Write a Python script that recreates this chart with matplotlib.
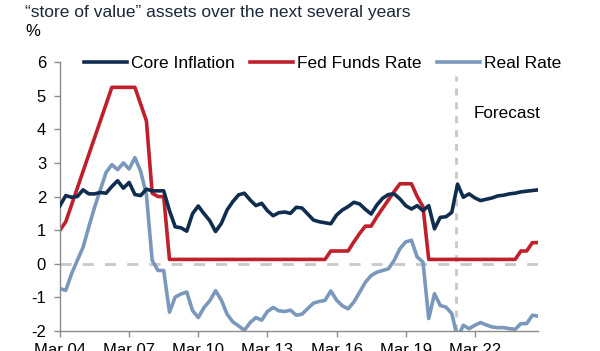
import matplotlib
matplotlib.use("Agg")
import matplotlib.pyplot as plt
import numpy as np

plt.rcParams['font.family'] = ['Liberation Sans', 'DejaVu Sans']
plt.rcParams['axes.unicode_minus'] = False

# quarterly, Mar 04 .. Dec 24
tick_labels = ["Mar 04", "Mar 07", "Mar 10", "Mar 13", "Mar 16", "Mar 19", "Mar 22"]

core_inflation = [
    1.73, 2.03, 1.98, 2.00, 2.20, 2.08, 2.08, 2.12, 2.10, 2.30,
    2.47, 2.25, 2.42, 2.06, 2.03, 2.22, 2.17, 2.17, 2.17, 1.58,
    1.10, 1.07, 0.97, 1.49, 1.72, 1.49, 1.28, 0.96, 1.20, 1.60,
    1.85, 2.05, 2.10, 1.90, 1.73, 1.80, 1.58, 1.43, 1.52, 1.54,
    1.50, 1.68, 1.66, 1.48, 1.30, 1.25, 1.22, 1.19, 1.45, 1.60,
    1.70, 1.83, 1.78, 1.62, 1.48, 1.75, 1.95, 2.06, 2.08, 1.93,
    1.73, 1.63, 1.73, 1.58, 1.73, 1.04, 1.38, 1.40, 1.53, 2.37,
    1.98, 2.08, 1.96, 1.88, 1.92, 1.96, 2.02, 2.04, 2.08, 2.10,
    2.14, 2.16, 2.18, 2.20,
]

fed_funds = [
    1.00, 1.25, 1.75, 2.25, 2.75, 3.25, 3.75, 4.25, 4.75, 5.25,
    5.25, 5.25, 5.25, 5.25, 4.75, 4.25, 2.10, 2.00, 2.00, 0.13,
    0.13, 0.13, 0.13, 0.13, 0.13, 0.13, 0.13, 0.13, 0.13, 0.13,
    0.13, 0.13, 0.13, 0.13, 0.13, 0.13, 0.13, 0.13, 0.13, 0.13,
    0.13, 0.13, 0.13, 0.13, 0.13, 0.13, 0.13, 0.38, 0.38, 0.38,
    0.38, 0.65, 0.90, 1.12, 1.12, 1.40, 1.65, 1.90, 2.15, 2.38,
    2.38, 2.38, 2.00, 1.70, 0.13, 0.13, 0.13, 0.13, 0.13, 0.13,
    0.13, 0.13, 0.13, 0.13, 0.13, 0.13, 0.13, 0.13, 0.13, 0.13,
    0.38, 0.38, 0.63, 0.63,
]

real_rate = [
    -0.74, -0.79, -0.30, 0.10, 0.49, 1.10, 1.68, 2.20, 2.72, 2.95,
    2.80, 3.00, 2.82, 3.16, 2.75, 2.05, 0.10, -0.20, -0.20, -1.44,
    -0.99, -0.90, -0.84, -1.39, -1.60, -1.30, -1.10, -0.80, -1.08, -1.50,
    -1.73, -1.85, -1.98, -1.75, -1.60, -1.68, -1.42, -1.30, -1.40, -1.42,
    -1.38, -1.53, -1.50, -1.33, -1.17, -1.12, -1.09, -0.81, -1.08, -1.25,
    -1.34, -1.14, -0.85, -0.55, -0.35, -0.25, -0.20, -0.15, 0.10, 0.45,
    0.65, 0.70, 0.20, 0.05, -1.63, -0.89, -1.24, -1.29, -1.48, -2.20,
    -1.83, -1.93, -1.83, -1.75, -1.82, -1.88, -1.90, -1.90, -1.93, -1.95,
    -1.78, -1.78, -1.53, -1.56,
]

forecast_start = 68.7

x = np.arange(len(core_inflation))

fig = plt.figure(figsize=(6, 3.51), dpi=100)
ax = fig.add_axes([0.1, 0.057, 0.797, 0.766])

ax.axhline(0, color="#c8c8c8", lw=2, dashes=(4, 4), zorder=1)
ax.axvline(forecast_start, ymax=0.95, color="#c8c8c8", lw=2, dashes=(2.5, 2.5), zorder=1)

ax.plot(x, core_inflation, color="#0f2d4f", lw=2.6, label="Core Inflation", zorder=3)
ax.plot(x, fed_funds, color="#c01f2c", lw=2.6, label="Fed Funds Rate", zorder=2)
ax.plot(x, real_rate, color="#7a98bc", lw=2.6, label="Real Rate", zorder=2)

ax.set_xlim(0, 83)
ax.set_ylim(-2, 6)
ax.set_yticks(range(-2, 7))
ax.set_xticks(np.arange(0, 84, 12))
ax.set_xticklabels(tick_labels)

for s in ["top", "right"]:
    ax.spines[s].set_visible(False)
for s in ["left", "bottom"]:
    ax.spines[s].set_color("#8c8c8c")
    ax.spines[s].set_linewidth(1)
ax.tick_params(axis="both", colors="#8c8c8c", labelcolor="black", labelsize=12,
               direction="out", length=4, width=1)
ax.tick_params(axis="y", pad=6)
ax.tick_params(axis="x", pad=5)

leg = ax.legend(loc="center", bbox_to_anchor=(0.549, 0.996), ncol=3, frameon=False,
                fontsize=12.5, handlelength=2.5, handletextpad=0.2, columnspacing=0.9)

ax.text(71.8, 4.46, "Forecast", fontsize=12.3, ha="left", va="center")

fig.text(0.042, 1 - 12 / 351, "\u201cstore of value\u201d assets over the next several years",
         fontsize=12.5, color="#1b2838", ha="left", va="center")
fig.text(0.042, 1 - 32 / 351, "%", fontsize=12, ha="left", va="center")

fig.savefig("out.png", dpi=100)
